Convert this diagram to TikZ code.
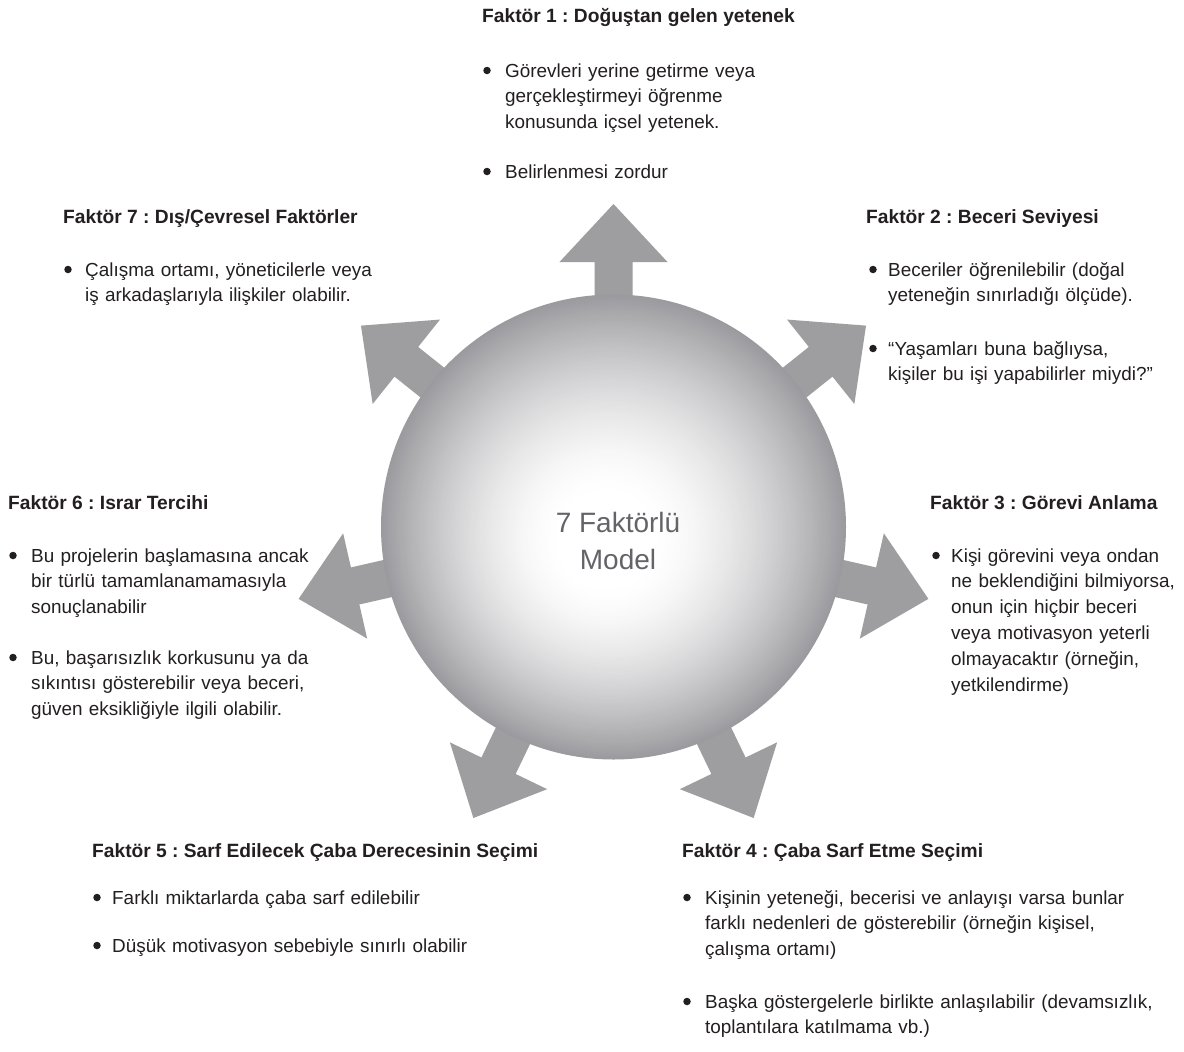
\documentclass[tikz,border=0pt]{standalone}
\usepackage{fontspec}
\setmainfont{Liberation Sans}
\frenchspacing
\definecolor{arrowgray}{RGB}{158,157,160}
\definecolor{edgegray}{RGB}{155,154,158}
\definecolor{txt}{RGB}{35,31,32}
\definecolor{centertxt}{RGB}{100,100,104}
\begin{document}
\begin{tikzpicture}[x=1pt,y=1pt,
  head/.style={font=\fontsize{19.2}{26}\selectfont\bfseries, text=txt, anchor=base west, inner sep=0pt},
  item/.style={font=\fontsize{18.9}{25.8}\selectfont, text=txt, anchor=base west, inner sep=0pt, text width=560pt, align=left},
  dot/.style={circle, fill=txt, inner sep=0pt, minimum size=7.5pt},
  spoke/.style={fill=arrowgray}
]
\useasboundingbox (0,0) rectangle (1184,-1052);
\fill[white] (0,0) rectangle (1184,-1052);
\coordinate (c) at (613.5,-527);
% arrows
\foreach \a in {90, 141.4286, 192.8571, 244.2857, 295.7143, 347.1429, 38.5714}{
  \begin{scope}[shift={(c)}, rotate=\a]
    \fill[spoke] (150,19) -- (265,19) -- (265,54) -- (323,0) -- (265,-54) -- (265,-19) -- (150,-19) -- cycle;
  \end{scope}
}
% central sphere: radial gradient built from concentric discs
\foreach \i in {0,...,99}{
  \pgfmathsetmacro\tt{1-\i/100}
  \pgfmathsetmacro\ff{max(0.0001,(\tt-0.2)/0.8)}
  \pgfmathsetmacro\pp{100*(\ff^1.6)}
  \pgfmathsetmacro\rr{232.5*\tt}
  \fill[edgegray!\pp!white, shift={(c)}] (-0.085*\i,-0.16*\i) circle (\rr);
}
\node[font=\fontsize{28}{37}\selectfont, text=centertxt, align=center] (model) at (618,-541) {7 Faktörlü\\Model};
% Factor 1
\node[head] (h1) at (482,-23) {Faktör 1 : Doğuştan gelen yetenek};
\node[dot] (d1a) at (487,-70.5) {};
\node[item] (t1a) at (505,-77) {Görevleri yerine getirme veya\\gerçekleştirmeyi öğrenme\\konusunda içsel yetenek.};
\node[dot] (d1b) at (487,-171.5) {};
\node[item] (t1b) at (505,-178) {Belirlenmesi zordur};
% Factor 7
\node[head] (h7) at (63,-223) {Faktör 7 : Dış/Çevresel Faktörler};
\node[dot] (d7a) at (68,-269.5) {};
\node[item] (t7a) at (85,-276) {Çalışma ortamı, yöneticilerle veya\\iş arkadaşlarıyla ilişkiler olabilir.};
% Factor 2
\node[head] (h2) at (866,-223) {Faktör 2 : Beceri Seviyesi};
\node[dot] (d2a) at (873,-269.5) {};
\node[item] (t2a) at (888,-276) {Beceriler öğrenilebilir (doğal\\yeteneğin sınırladığı ölçüde).};
\node[dot] (d2b) at (873,-348.5) {};
\node[item] (t2b) at (888,-355) {“Yaşamları buna bağlıysa,\\kişiler bu işi yapabilirler miydi?”};
% Factor 6
\node[head] (h6) at (8,-509) {Faktör 6 : Israr Tercihi};
\node[dot] (d6a) at (13,-555.5) {};
\node[item] (t6a) at (31,-562) {Bu projelerin başlamasına ancak\\bir türlü tamamlanamamasıyla\\sonuçlanabilir};
\node[dot] (d6b) at (13,-657.5) {};
\node[item] (t6b) at (31,-664) {Bu, başarısızlık korkusunu ya da\\sıkıntısı gösterebilir veya beceri,\\güven eksikliğiyle ilgili olabilir.};
% Factor 3
\node[head] (h3) at (930,-509) {Faktör 3 : Görevi Anlama};
\node[dot] (d3a) at (936,-555.5) {};
\node[item] (t3a) at (951,-562) {Kişi görevini veya ondan\\ne beklendiğini bilmiyorsa,\\onun için hiçbir beceri\\veya motivasyon yeterli\\olmayacaktır (örneğin,\\yetkilendirme)};
% Factor 5
\node[head] (h5) at (92,-857) {Faktör 5 : Sarf Edilecek Çaba Derecesinin Seçimi};
\node[dot] (d5a) at (97,-897.5) {};
\node[item] (t5a) at (112,-904) {Farklı miktarlarda çaba sarf edilebilir};
\node[dot] (d5b) at (97,-945.5) {};
\node[item] (t5b) at (112,-952) {Düşük motivasyon sebebiyle sınırlı olabilir};
% Factor 4
\node[head] (h4) at (682,-857) {Faktör 4 : Çaba Sarf Etme Seçimi};
\node[dot] (d4a) at (687,-897.5) {};
\node[item] (t4a) at (705,-904) {Kişinin yeteneği, becerisi ve anlayışı varsa bunlar\\farklı nedenleri de gösterebilir (örneğin kişisel,\\çalışma ortamı)};
\node[dot] (d4b) at (687,-1001.5) {};
\node[item] (t4b) at (705,-1008) {Başka göstergelerle birlikte anlaşılabilir (devamsızlık,\\toplantılara katılmama vb.)};
\end{tikzpicture}
\end{document}
